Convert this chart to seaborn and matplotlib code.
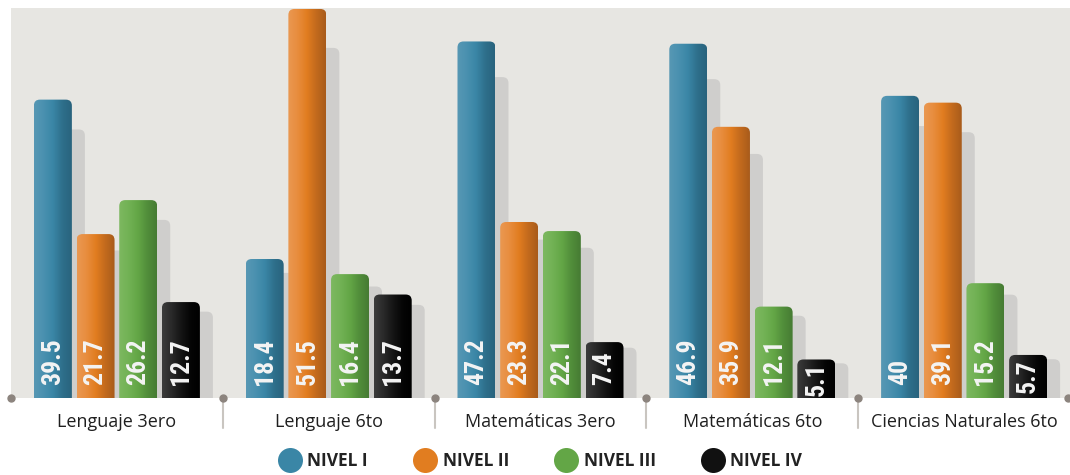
import matplotlib
matplotlib.use('Agg')
import matplotlib.pyplot as plt
import matplotlib.font_manager as fm
import seaborn as sns
import numpy as np
import pandas as pd
from matplotlib.patches import FancyBboxPatch
from matplotlib.colors import LinearSegmentedColormap
from matplotlib.lines import Line2D

categories = ['Lenguaje 3ero', 'Lenguaje 6to', 'Matemáticas 3ero',
              'Matemáticas 6to', 'Ciencias Naturales 6to']
levels = ['NIVEL I', 'NIVEL II', 'NIVEL III', 'NIVEL IV']
nivel_1 = [39.5, 18.4, 47.2, 46.9, 40]
nivel_2 = [21.7, 51.5, 23.3, 35.9, 39.1]
nivel_3 = [26.2, 16.4, 22.1, 12.1, 15.2]
nivel_4 = [12.7, 13.7, 7.4, 5.1, 5.7]
series = [nivel_1, nivel_2, nivel_3, nivel_4]

base_colors = ['#3a86a6', '#e17d20', '#63a646', '#111111']
gradients = [
    ['#5898b4', '#4a91b0', '#3a86a6', '#2e6f8b', '#29637d'],
    ['#ea9852', '#e88d3e', '#e17d20', '#c26a1d', '#a85b1b'],
    ['#7db860', '#72b255', '#63a646', '#518d3a', '#467b33'],
    ['#3c3c3c', '#2a2a2a', '#151515', '#050505', '#000000'],
]

df = pd.DataFrame({
    'categoria': categories * 4,
    'nivel': np.repeat(levels, len(categories)),
    'valor': nivel_1 + nivel_2 + nivel_3 + nivel_4,
})

sns.set_theme(style='white')
plt.rcParams['font.family'] = ['Open Sans', 'DejaVu Sans']

# pick a condensed face for the value labels if one is installed
names = {f.name for f in fm.fontManager.ttflist}
cond = [f for f in fm.fontManager.ttflist
        if f.stretch in ('condensed', 'semi-condensed', 'extra-condensed')
        or 'Narrow' in f.name or 'Condensed' in f.name]
label_kw = dict(family=['Roboto', 'DejaVu Sans'], fontsize=16, fontweight='bold')
for pref in ['Liberation Sans Narrow', 'Roboto Condensed', 'Open Sans Condensed',
             'Noto Sans Condensed', 'DejaVu Sans Condensed']:
    if pref in names:
        label_kw = dict(family=[pref, 'DejaVu Sans'], fontsize=18.5, fontweight='bold')
        break
else:
    for f in cond:
        if f.name in ('DejaVu Sans', 'Noto Sans', 'Open Sans', 'Roboto', 'Liberation Sans'):
            label_kw = dict(family=[f.name, 'DejaVu Sans'], fontsize=18.5,
                            fontweight='bold', fontstretch=f.stretch)
            break

W, H = 1070, 475
fig = plt.figure(figsize=(W / 100, H / 100), dpi=100)
fig.patch.set_facecolor('white')
ax = fig.add_axes([11 / W, 77 / H, 1059 / W, 390 / H])
ax.set_facecolor('#e7e6e2')

sns.barplot(data=df, x='categoria', y='valor', hue='nivel', palette=base_colors,
            width=0.806, gap=0.11, saturation=1, ax=ax, legend=False)

YMAX = 51.63
ax.set_xlim(-0.5, 4.5)
ax.set_ylim(0, YMAX)

xpx = 1059 / 5.0
ypx = 390 / YMAX
r = 6 / xpx
asp = xpx / ypx
dx = 13 / xpx
grad = np.linspace(0, 1, 256).reshape(1, -1)

for i, cont in enumerate(ax.containers):
    cmap = LinearSegmentedColormap.from_list(f'g{i}', gradients[i])
    for j, p in enumerate(cont.patches):
        x0, w, h = p.get_x(), p.get_width(), p.get_height()
        p.set_visible(False)
        sh = 0.9 * h
        shadow = FancyBboxPatch((x0 + dx, -2), w, sh + 2,
                                boxstyle=f'round,pad=0,rounding_size={r}',
                                mutation_aspect=asp, fc='#cfcecc', ec='none',
                                zorder=1)
        ax.add_patch(shadow)
        bar = FancyBboxPatch((x0, -2), w, h + 2,
                             boxstyle=f'round,pad=0,rounding_size={r}',
                             mutation_aspect=asp, fc='none', ec='none', zorder=2)
        ax.add_patch(bar)
        im = ax.imshow(grad, extent=[x0, x0 + w, 0, h], aspect='auto',
                       cmap=cmap, zorder=2, interpolation='bilinear')
        im.set_clip_path(bar)
        if h < 7:
            ty, tva = h / 2, 'center'
        else:
            ty, tva = 13 / ypx, 'bottom'
        ax.text(x0 + w / 2, ty, f'{series[i][j]:g}', rotation=90, ha='center',
                va=tva, color='#f4f4f4', zorder=4, **label_kw)

ax.set_xlim(-0.5, 4.5)
ax.set_ylim(0, YMAX)

for b in [0.5, 1.5, 2.5, 3.5]:
    ax.plot([b, b], [0, -30 / ypx], color='#c9c5c0', lw=1.5, clip_on=False, zorder=0)
ax.plot([-0.5, 0.5, 1.5, 2.5, 3.5, 4.49], [0] * 6, 'o', ms=5, color='#8c847e',
        clip_on=False, zorder=5)

for s in ax.spines.values():
    s.set_visible(False)
ax.set_xticks(range(5))
ax.set_xticklabels(categories, fontsize=13, color='#1f1f1f')
ax.tick_params(axis='x', length=0, pad=11)
ax.set_yticks([])
ax.set_xlabel('')
ax.set_ylabel('')

handles = [Line2D([0], [0], marker='o', ls='none', ms=18, mfc=c, mec='none')
           for c in base_colors]
leg = fig.legend(handles, levels, loc='center', bbox_to_anchor=(540 / W, 1 - 461 / H),
                 ncol=4, frameon=False, prop={'weight': 'bold', 'size': 12.5},
                 handletextpad=0.3, columnspacing=2.6, handlelength=1.4)
for t in leg.get_texts():
    t.set_color('#222222')

fig.savefig('out.png', dpi=100)
